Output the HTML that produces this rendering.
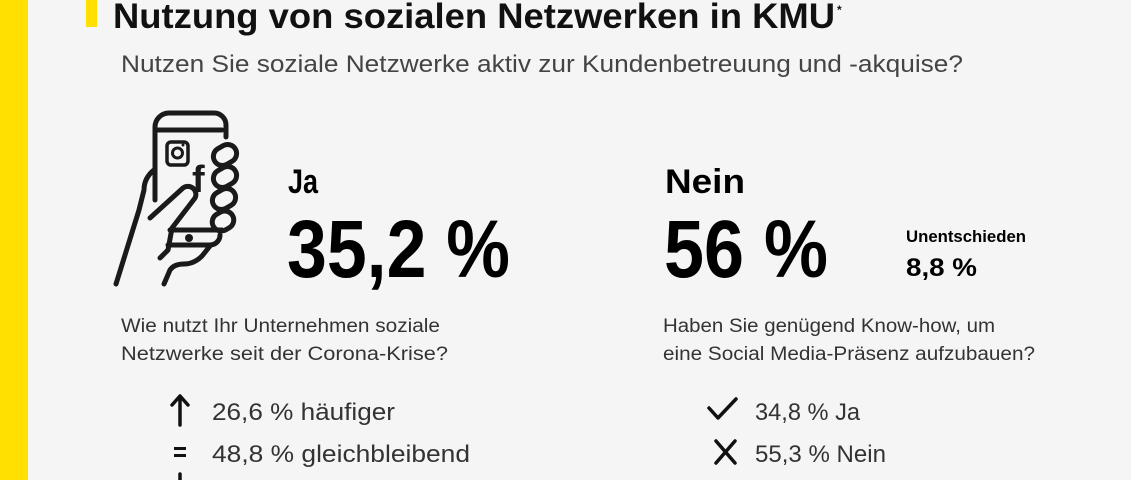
<!DOCTYPE html>
<html><head><meta charset="utf-8"><style>
html,body{margin:0;padding:0;background:#f5f5f5;}
svg{display:block;}
text{font-family:"Liberation Sans",sans-serif;}
</style></head><body>
<svg width="1131" height="480" viewBox="0 0 1131 480" xmlns="http://www.w3.org/2000/svg">
<rect width="1131" height="480" fill="#f5f5f5"/>
<rect x="0" y="0" width="28" height="480" fill="#ffe000"/>
<rect x="86" y="0" width="11" height="27" fill="#ffe000"/>
<text x="113" y="28" font-size="35" font-weight="bold" fill="#111" textLength="722" lengthAdjust="spacingAndGlyphs">Nutzung von sozialen Netzwerken in KMU</text>
<text x="837" y="14" font-size="12" font-weight="bold" fill="#111">*</text>
<text x="121" y="72" font-size="24" fill="#444" textLength="842" lengthAdjust="spacingAndGlyphs">Nutzen Sie soziale Netzwerke aktiv zur Kundenbetreuung und -akquise?</text>

<!-- phone icon -->
<g fill="none" stroke="#1a1a1a" stroke-width="5" stroke-linecap="round" stroke-linejoin="round">
<path d="M155 200 V127 a14 14 0 0 1 14 -14 h45 a12 12 0 0 1 12 12 v12"/>
<path d="M157 130 H222"/>
<path d="M170 230 H222"/>
<path d="M168 245 H210 a10 10 0 0 0 10 -10"/>
<path d="M150 218 L183 188 a8 8 0 0 1 12 10 L172 228 L168 250 L160 258"/>
<path d="M154 170 q-10 8 -10 20 L139 210 L116 284"/>
<path d="M164 284 L170 270 q4 -6 14 -6 q10 0 18 -8 l8 -10"/>
<rect x="167" y="142" width="21" height="23" rx="4" stroke-width="3.5"/>
<circle cx="177.5" cy="153" r="5" stroke-width="3"/>
<rect x="213" y="146" width="24" height="18" rx="9" transform="rotate(-30 225 155)"/>
<rect x="213" y="168" width="24" height="18" rx="9" transform="rotate(-30 225 177)"/>
<rect x="212" y="190" width="24" height="18" rx="9" transform="rotate(-30 224 199)"/>
<rect x="212" y="212" width="22" height="18" rx="9" transform="rotate(-30 223 221)"/>
</g>
<circle cx="183" cy="145" r="1.5" fill="#1a1a1a"/>
<circle cx="189" cy="238" r="4" fill="#1a1a1a"/>
<text x="192" y="192" font-size="38" font-weight="bold" fill="#1a1a1a">f</text>

<text x="288" y="193" font-size="34" font-weight="bold" fill="#000" textLength="30" lengthAdjust="spacingAndGlyphs">Ja</text>
<text x="287" y="277" font-size="82" font-weight="bold" fill="#000" textLength="223" lengthAdjust="spacingAndGlyphs">35,2 %</text>
<text x="665" y="193" font-size="34" font-weight="bold" fill="#000" textLength="80" lengthAdjust="spacingAndGlyphs">Nein</text>
<text x="664" y="277" font-size="82" font-weight="bold" fill="#000" textLength="164" lengthAdjust="spacingAndGlyphs">56 %</text>
<text x="906" y="242" font-size="17" font-weight="bold" fill="#000" textLength="120" lengthAdjust="spacingAndGlyphs">Unentschieden</text>
<text x="906" y="276" font-size="25" font-weight="bold" fill="#000" textLength="71" lengthAdjust="spacingAndGlyphs">8,8 %</text>

<text x="121" y="332" font-size="19" fill="#333" textLength="319" lengthAdjust="spacingAndGlyphs">Wie nutzt Ihr Unternehmen soziale</text>
<text x="121" y="360" font-size="19" fill="#333" textLength="327" lengthAdjust="spacingAndGlyphs">Netzwerke seit der Corona-Krise?</text>
<text x="663" y="332" font-size="19" fill="#333" textLength="332" lengthAdjust="spacingAndGlyphs">Haben Sie genügend Know-how, um</text>
<text x="663" y="360" font-size="19" fill="#333" textLength="372" lengthAdjust="spacingAndGlyphs">eine Social Media-Präsenz aufzubauen?</text>

<g stroke="#111" stroke-width="3.5" fill="none" stroke-linecap="round" stroke-linejoin="round">
<path d="M180 425 V397 M172 405 L180 396 L188 405"/>
<path d="M709 408 L718 418 L736 399"/>
<path d="M716 441 L735 463 M735 441 L716 463"/>
<path d="M180 474 V480"/>
</g>
<rect x="174" y="447" width="12" height="3" fill="#111"/>
<rect x="174" y="454" width="12" height="3" fill="#111"/>

<text x="212" y="420" font-size="24" fill="#333" textLength="183" lengthAdjust="spacingAndGlyphs">26,6 % häufiger</text>
<text x="212" y="462" font-size="24" fill="#333" textLength="258" lengthAdjust="spacingAndGlyphs">48,8 % gleichbleibend</text>
<text x="755" y="420" font-size="24" fill="#333" textLength="105" lengthAdjust="spacingAndGlyphs">34,8 % Ja</text>
<text x="755" y="462" font-size="24" fill="#333" textLength="131" lengthAdjust="spacingAndGlyphs">55,3 % Nein</text>
</svg>
</body></html>
